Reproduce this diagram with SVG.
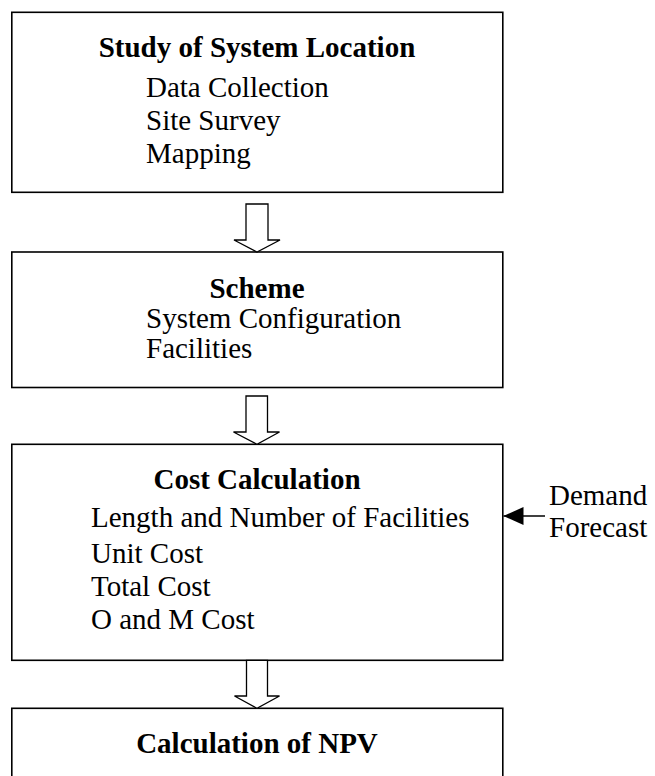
<svg xmlns="http://www.w3.org/2000/svg" width="655" height="776" viewBox="0 0 655 776">
  <style>
    .box { fill: #ffffff; stroke: #000000; stroke-width: 1.6; }
    .flow { fill: #ffffff; stroke: #000000; stroke-width: 1.3; stroke-linejoin: miter; }
    .title { font-family: "Liberation Serif", "Times New Roman", serif; font-size: 29px; font-weight: bold; fill: #000; text-anchor: middle; }
    .item { font-family: "Liberation Serif", "Times New Roman", serif; font-size: 29px; fill: #000; }
    .link { stroke: #000; stroke-width: 1.6; fill: none; }
  </style>
  <defs>
    <marker id="head" markerUnits="userSpaceOnUse" markerWidth="22" markerHeight="20" refX="20" refY="10" orient="auto">
      <path d="M0,1 L20,10 L0,19 Z" fill="#000"/>
    </marker>
  </defs>
  <rect width="655" height="776" fill="#ffffff"/>

  <g id="study">
    <rect class="box" x="11.8" y="12.3" width="491" height="180"/>
    <text class="title" x="257" y="56.5">Study of System Location</text>
    <text class="item" x="146" y="96.7">Data Collection</text>
    <text class="item" x="146" y="130">Site Survey</text>
    <text class="item" x="146" y="163.3">Mapping</text>
  </g>

  <g id="scheme">
    <rect class="box" x="11.8" y="252" width="491" height="135.5"/>
    <text class="title" x="257" y="298.3">Scheme</text>
    <text class="item" x="146" y="328.3">System Configuration</text>
    <text class="item" x="146" y="358.3">Facilities</text>
  </g>

  <g id="cost">
    <rect class="box" x="11.8" y="444.3" width="491" height="216"/>
    <text class="title" x="257" y="489.3">Cost Calculation</text>
    <text class="item" x="91" y="527.3">Length and Number of Facilities</text>
    <text class="item" x="91" y="562.7">Unit Cost</text>
    <text class="item" x="91" y="596">Total Cost</text>
    <text class="item" x="91" y="629.3">O and M Cost</text>
  </g>

  <g id="npv">
    <rect class="box" x="11.8" y="708.3" width="491" height="100"/>
    <text class="title" x="257" y="753.3">Calculation of NPV</text>
  </g>

  <g id="demand">
    <text class="item" x="549" y="505">Demand</text>
    <text class="item" x="549" y="537">Forecast</text>
  </g>

  <g id="connectors">
    <polygon class="flow" points="246,204 268,204 268,240 280,240 257,252 234,240 246,240"/>
    <polygon class="flow" points="246,396 267.5,396 267.5,432 279.5,432 257,444.3 233.5,432 246,432"/>
    <polygon class="flow" points="246.5,660.3 267.5,660.3 267.5,696 279.5,696 257,708.3 234.5,696 246.5,696"/>
    <line class="link" x1="545" y1="516" x2="503.5" y2="516" marker-end="url(#head)"/>
  </g>
</svg>
